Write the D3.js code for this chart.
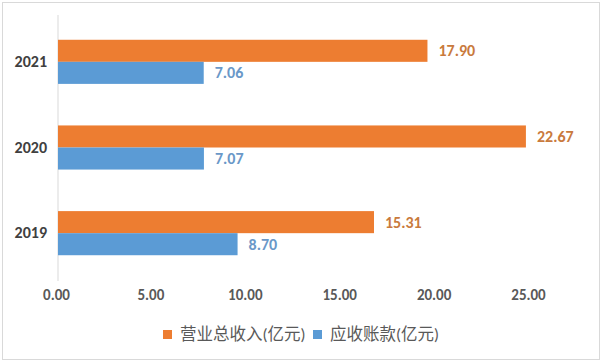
<!DOCTYPE html>
<html>
<head>
<meta charset="utf-8">
<script src="https://cdnjs.cloudflare.com/ajax/libs/d3/7.8.5/d3.min.js"></script>
<style>
  body { margin: 0; background: #fff; }
  text { font-family: Calibri, Carlito, "Liberation Sans", "Noto Sans CJK SC", sans-serif; }
</style>
</head>
<body>
<div id="chart"></div>
<script>
// data
var years = ["2021", "2020", "2019"];
var revenue = [17.90, 22.67, 15.31];     // 营业总收入(亿元)
var receivable = [7.06, 7.07, 8.70];     // 应收账款(亿元)
var tickValues = [0, 5, 10, 15, 20, 25];
var seriesNames = ["营业总收入(亿元)", "应收账款(亿元)"];

var w = 602;
var h = 362;
var orange = "#ED7D31";
var blue = "#5B9BD5";

var svg = d3.select("#chart")
            .append("svg")
            .attr("width", w)
            .attr("height", h);

// light frame
svg.append("rect")
   .attr("x", 2.5).attr("y", 2.5)
   .attr("width", w - 5).attr("height", h - 5)
   .attr("fill", "#fff")
   .attr("stroke", "#d9d9d9");

// bar scale and the tick-label scale (the labels in the picture sit on a tighter spacing)
var x = d3.scaleLinear().domain([0, 25]).range([58, 574]);
var xTicks = d3.scaleLinear().domain([0, 25]).range([56, 528]);

var y = d3.scaleBand()
          .domain(years)
          .range([19, 276])
          .paddingInner(0.485)
          .paddingOuter(0.2425);

var sub = d3.scaleBand()
            .domain([0, 1])
            .range([0, y.bandwidth()]);

// category axis line
svg.append("line")
   .attr("x1", x(0)).attr("x2", x(0))
   .attr("y1", 15).attr("y2", 281)
   .attr("stroke", "#d9d9d9")
   .attr("stroke-width", 1);

var rows = years.map(function(d, i) {
    return { year: d, vals: [revenue[i], receivable[i]] };
});

var g = svg.selectAll("g.row")
   .data(rows)
   .enter()
   .append("g")
   .attr("class", "row")
   .attr("transform", function(d) { return "translate(0," + y(d.year) + ")"; });

g.selectAll("rect")
   .data(function(d) { return d.vals; })
   .enter()
   .append("rect")
   .attr("x", x(0))
   .attr("y", function(d, i) { return sub(i); })
   .attr("width", function(d) { return x(d) - x(0); })
   .attr("height", sub.bandwidth())
   .attr("fill", function(d, i) { return i === 0 ? orange : blue; });

g.selectAll("text.val")
   .data(function(d) { return d.vals; })
   .enter()
   .append("text")
   .attr("class", "val")
   .attr("x", function(d) { return x(d) + 11; })
   .attr("y", function(d, i) { return sub(i) + sub.bandwidth() / 2; })
   .attr("dy", "0.35em")
   .attr("font-size", 16)
   .attr("font-weight", "bold")
   .attr("fill", function(d, i) { return i === 0 ? "#C97A3D" : "#6A98C8"; })
   .text(function(d) { return d.toFixed(2); });

// year labels
var yAxis = svg.append("g")
   .attr("transform", "translate(" + (x(0) - 11) + ",0)")
   .call(d3.axisLeft(y).tickSize(0).tickPadding(0));
yAxis.select(".domain").remove();
yAxis.selectAll("text")
   .attr("font-size", 16)
   .attr("font-weight", "bold")
   .attr("fill", "#404040");

// value axis labels
var xAxis = svg.append("g")
   .attr("transform", "translate(0,289)")
   .call(d3.axisBottom(xTicks).tickValues(tickValues).tickSize(0).tickPadding(0)
           .tickFormat(function(d) { return d.toFixed(2); }));
xAxis.select(".domain").remove();
xAxis.selectAll("text")
   .attr("font-size", 15)
   .attr("font-weight", "bold")
   .attr("fill", "#595959");

// legend
var legend = svg.append("g").attr("transform", "translate(0,334)");
var lx = [163, 313];
seriesNames.forEach(function(name, i) {
    legend.append("rect")
       .attr("x", lx[i]).attr("y", -4)
       .attr("width", 9).attr("height", 9)
       .attr("fill", i === 0 ? orange : blue);
    legend.append("text")
       .attr("x", lx[i] + 17)
       .attr("y", 0)
       .attr("dy", "0.35em")
       .attr("font-size", 16.5)
       .attr("fill", "#595959")
       .text(name);
});
</script>
</body>
</html>
